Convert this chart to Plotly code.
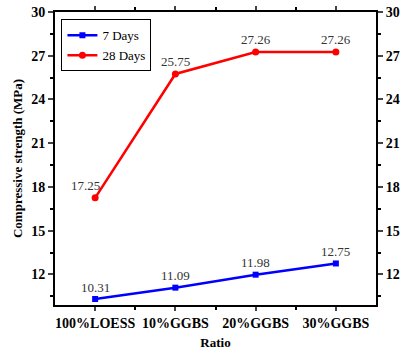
import plotly.graph_objects as go

categories = ["100%LOESS", "10%GGBS", "20%GGBS", "30%GGBS"]
days7 = [10.31, 11.09, 11.98, 12.75]
days28 = [17.25, 25.75, 27.26, 27.26]
yticks = [12, 15, 18, 21, 24, 27, 30]

FONT = "Liberation Serif, Times New Roman, serif"
xidx = list(range(len(categories)))

fig = go.Figure()
fig.add_trace(go.Scatter(
    x=xidx, y=days7, mode="lines+markers", name="7 Days",
    line=dict(color="#0000ff", width=2.5),
    marker=dict(symbol="square", size=6, color="#0000ff"),
))
fig.add_trace(go.Scatter(
    x=xidx, y=days28, mode="lines+markers", name="28 Days",
    line=dict(color="#ff0000", width=2.5),
    marker=dict(symbol="circle", size=7, color="#ff0000"),
))
# invisible trace to activate the right axis
fig.add_trace(go.Scatter(x=[xidx[0]], y=[days28[0]], yaxis="y2", mode="markers",
                         marker=dict(opacity=0), showlegend=False, hoverinfo="skip"))

for series in (days7, days28):
    for i, v in enumerate(series):
        fig.add_annotation(
            x=i, y=v, text=f"{v:.2f}", showarrow=False,
            yshift=12, xshift=(-10 if (series is days28 and i == 0) else 0),
            font=dict(family=FONT, size=13, color="#333333"),
        )

yr = [9.9, 30]
common_y = dict(
    range=yr, tickvals=yticks, ticks="outside", ticklen=5, tickwidth=1.5,
    showline=True, linecolor="black", linewidth=2, showgrid=False, zeroline=False,
    automargin=False,
    tickfont=dict(family=FONT, size=14, color="black", weight="bold"),
    minor=dict(tickvals=[10.5, 13.5, 16.5, 19.5, 22.5, 25.5, 28.5], ticks="outside",
               ticklen=3, tickwidth=1.5, tickcolor="black"),
)

fig.update_layout(
    width=400, height=356,
    margin=dict(l=55, r=24, t=12, b=51),
    paper_bgcolor="white", plot_bgcolor="white",
    font=dict(family=FONT, color="black"),
    xaxis=dict(
        range=[-0.5, 3.5], tickvals=xidx, ticktext=categories,
        ticks="outside", ticklen=4, tickwidth=1.5, mirror="ticks",
        showline=True, linecolor="black", linewidth=2, showgrid=False, zeroline=False,
        automargin=False,
        tickfont=dict(family=FONT, size=14, color="black", weight="bold"),
        minor=dict(tickvals=[0.5, 1.5, 2.5], ticks="outside", ticklen=3,
                   tickwidth=1.5, tickcolor="black"),
        title=dict(text="Ratio", font=dict(family=FONT, size=13, weight="bold"), standoff=8),
    ),
    yaxis=dict(
        **common_y,
        title=dict(text="Compressive strength (MPa)",
                   font=dict(family=FONT, size=13, weight="bold"), standoff=6),
    ),
    yaxis2=dict(**common_y, overlaying="y", side="right"),
    legend=dict(
        x=0.02, y=0.975, xanchor="left", yanchor="top",
        bordercolor="black", borderwidth=1, bgcolor="white",
        font=dict(family=FONT, size=13, color="black"),
        itemwidth=30, tracegroupgap=0,
    ),
    showlegend=True,
)

fig.write_html("out.html")
